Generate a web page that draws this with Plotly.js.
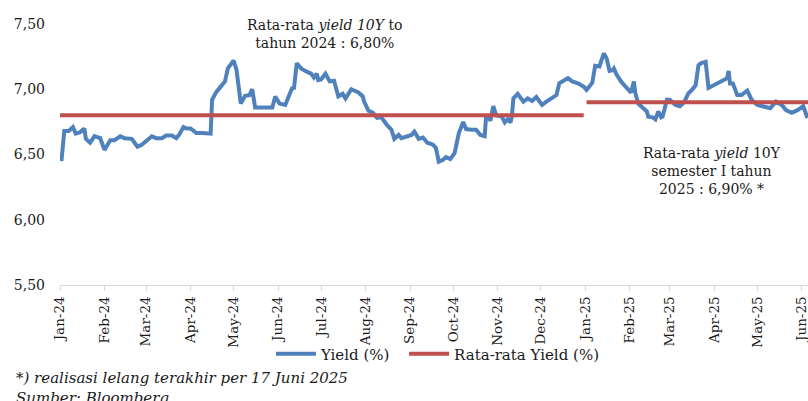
<!DOCTYPE html>
<html>
<head>
<meta charset="utf-8">
<script src="https://cdn.plot.ly/plotly-3.0.1.min.js"></script>
<style>html,body{margin:0;padding:0;background:#fff;}#chart{width:808px;height:401px;}</style>
</head>
<body>
<div id="chart"></div>
<script>
// Daily 10Y yield (%)
const yieldDates = [
"2024-01-02","2024-01-03","2024-01-04","2024-01-07","2024-01-10","2024-01-12","2024-01-15","2024-01-18","2024-01-19","2024-01-22",
"2024-01-25","2024-01-29","2024-02-01","2024-02-05","2024-02-08","2024-02-12","2024-02-15","2024-02-20","2024-02-24","2024-02-27",
"2024-03-05","2024-03-08","2024-03-12","2024-03-15","2024-03-19","2024-03-22","2024-03-24","2024-03-27","2024-03-29","2024-04-01",
"2024-04-05","2024-04-09","2024-04-14","2024-04-15","2024-04-16","2024-04-19","2024-04-22","2024-04-25","2024-04-27","2024-05-01",
"2024-05-03","2024-05-06","2024-05-09","2024-05-12","2024-05-14","2024-05-16","2024-05-28","2024-05-30","2024-06-02","2024-06-06",
"2024-06-11","2024-06-12","2024-06-14","2024-06-17","2024-06-21","2024-06-24","2024-06-26","2024-06-28","2024-06-29","2024-07-01",
"2024-07-04","2024-07-07","2024-07-10","2024-07-13","2024-07-16","2024-07-18","2024-07-22","2024-07-27","2024-07-30","2024-07-31",
"2024-08-03","2024-08-06","2024-08-09","2024-08-12","2024-08-16","2024-08-19","2024-08-21","2024-08-24","2024-08-26","2024-08-30",
"2024-09-02","2024-09-04","2024-09-07","2024-09-10","2024-09-13","2024-09-17","2024-09-19","2024-09-21","2024-09-24","2024-09-26",
"2024-09-29","2024-10-02","2024-10-05","2024-10-08","2024-10-10","2024-10-14","2024-10-17","2024-10-20","2024-10-23","2024-10-24",
"2024-10-27","2024-10-29","2024-10-31","2024-11-04","2024-11-06","2024-11-08","2024-11-10","2024-11-11","2024-11-12","2024-11-15",
"2024-11-19","2024-11-22","2024-11-25","2024-11-28","2024-12-02","2024-12-05","2024-12-10","2024-12-12","2024-12-14","2024-12-18",
"2024-12-20","2024-12-23","2024-12-27","2024-12-31","2025-01-02","2025-01-06","2025-01-08","2025-01-11","2025-01-13","2025-01-14",
"2025-01-16","2025-01-18","2025-01-20","2025-01-21","2025-01-23","2025-01-26","2025-01-30","2025-02-02","2025-02-04","2025-02-05",
"2025-02-07","2025-02-10","2025-02-13","2025-02-14","2025-02-17","2025-02-19","2025-02-21","2025-02-23","2025-02-24","2025-02-27",
"2025-03-01","2025-03-05","2025-03-08","2025-03-11","2025-03-14","2025-03-16","2025-03-19","2025-03-21","2025-03-23","2025-03-26",
"2025-03-28","2025-04-10","2025-04-11","2025-04-12","2025-04-14","2025-04-17","2025-04-20","2025-04-24","2025-04-27","2025-05-01",
"2025-05-05","2025-05-10","2025-05-14","2025-05-18","2025-05-21","2025-05-25","2025-05-29","2025-06-02","2025-06-05"
];
const yieldValues = [
6.45,6.625,6.68,6.68,6.71,6.66,6.67,6.70,6.62,6.59,
6.64,6.625,6.535,6.61,6.61,6.64,6.625,6.62,6.56,6.575,
6.64,6.625,6.625,6.645,6.645,6.625,6.65,6.71,6.70,6.70,
6.665,6.665,6.665,6.66,6.92,6.98,7.02,7.06,7.16,7.22,
7.15,6.89,6.95,6.955,7.00,6.86,6.86,6.945,6.89,6.88,
7.015,7.00,7.20,7.16,7.135,7.12,7.09,7.12,7.07,7.075,
7.12,7.06,7.065,6.945,6.965,6.93,7.00,6.975,6.945,6.905,
6.835,6.82,6.78,6.785,6.725,6.69,6.62,6.65,6.625,6.64,
6.65,6.675,6.62,6.63,6.59,6.575,6.55,6.445,6.46,6.48,
6.465,6.51,6.665,6.75,6.695,6.69,6.69,6.65,6.64,6.80,
6.76,6.87,6.80,6.79,6.745,6.77,6.745,6.80,6.93,6.965,
6.905,6.93,6.91,6.94,6.88,6.905,6.935,6.955,7.045,7.07,
7.085,7.06,7.045,7.02,6.995,7.05,7.18,7.175,7.23,7.275,
7.235,7.14,7.145,7.16,7.11,7.06,7.01,6.975,7.06,6.97,
6.89,6.855,6.83,6.79,6.785,6.77,6.83,6.785,6.79,6.92,
6.92,6.88,6.87,6.90,6.97,6.99,7.03,7.185,7.20,7.21,
7.01,7.085,7.14,7.045,7.045,6.955,6.955,6.99,6.92,6.88,
6.87,6.855,6.905,6.88,6.84,6.82,6.84,6.87,6.78
];

// Period averages
const avgStart = ["2024-01-01", "2025-01-02"];
const avgEnd = ["2024-12-31", "2025-06-17"];
const avgValues = [6.80, 6.90];

const seriesNames = ["Yield (%)", "Rata-rata Yield (%)"];
const yTickVals = [5.5, 6.0, 6.5, 7.0, 7.5];

const avgX = [], avgY = [];
for (let i = 0; i < avgValues.length; i++) {
  if (i > 0) { avgX.push(null); avgY.push(null); }
  avgX.push(avgStart[i], avgEnd[i]);
  avgY.push(avgValues[i], avgValues[i]);
}

const FONT = "DejaVu Serif, Liberation Serif, serif";
const TXT = "#1a1a1a";

const traces = [
  {x: yieldDates, y: yieldValues, type: "scatter", mode: "lines", name: seriesNames[0],
   line: {color: "#4F81BD", width: 4}, legend: "legend"},
  {x: avgX, y: avgY, type: "scatter", mode: "lines", name: seriesNames[1], connectgaps: false,
   line: {color: "#C0504D", width: 4}, legend: "legend2"}
];

const legendBase = {orientation: "h", y: -0.264, yanchor: "middle", xanchor: "left",
  font: {family: FONT, size: 15, color: TXT}, itemwidth: 40, bgcolor: "rgba(0,0,0,0)"};

const layout = {
  width: 808, height: 401,
  margin: {l: 60, r: 0, t: 24, b: 116},
  paper_bgcolor: "#fff", plot_bgcolor: "#fff",
  separators: ",.",
  font: {family: FONT, size: 13, color: TXT},
  showlegend: true,
  legend: Object.assign({}, legendBase, {x: 0.282}),
  legend2: Object.assign({}, legendBase, {x: 0.46}),
  xaxis: {
    type: "date", range: ["2024-01-01", "2025-06-05 08:00"],
    tick0: "2024-01-01", dtick: "M1", tickformat: "%b-%y", tickangle: -90,
    showgrid: false, zeroline: false, showline: true, linecolor: "#d9d9d9", linewidth: 1,
    ticks: "outside", ticklen: 5, tickcolor: "#d9d9d9",
    ticklabeloverflow: "allow",
    tickfont: {family: FONT, size: 13.5, color: TXT}
  },
  yaxis: {
    range: [5.5, 7.5], tickvals: yTickVals, tickformat: ".2f",
    showgrid: false, zeroline: false, showline: false, ticks: "",
    ticklabelstandoff: 14,
    tickfont: {family: FONT, size: 14, color: TXT}
  },
  annotations: [
    {xref: "paper", yref: "paper", x: 0.354, y: 0.96, xanchor: "center", yanchor: "middle",
     text: "Rata-rata <i>yield 10Y</i> to<br>tahun 2024 : 6,80%", showarrow: false, align: "center",
     font: {family: FONT, size: 14, color: TXT}},
    {xref: "paper", yref: "paper", x: 0.872, y: 0.437, xanchor: "center", yanchor: "middle",
     text: "Rata-rata <i>yield</i> 10Y<br>semester I tahun<br>2025 : 6,90% *", showarrow: false, align: "center",
     font: {family: FONT, size: 14, color: TXT}},
    {xref: "paper", yref: "paper", x: -0.062, y: -0.315, xanchor: "left", yanchor: "top",
     text: "<i>*) realisasi lelang terakhir per 17 Juni 2025</i><br><i>Sumber: Bloomberg</i>", showarrow: false, align: "left",
     font: {family: FONT, size: 15, color: TXT}}
  ]
};

Plotly.newPlot("chart", traces, layout, {displayModeBar: false, staticPlot: true});
</script>
</body>
</html>
